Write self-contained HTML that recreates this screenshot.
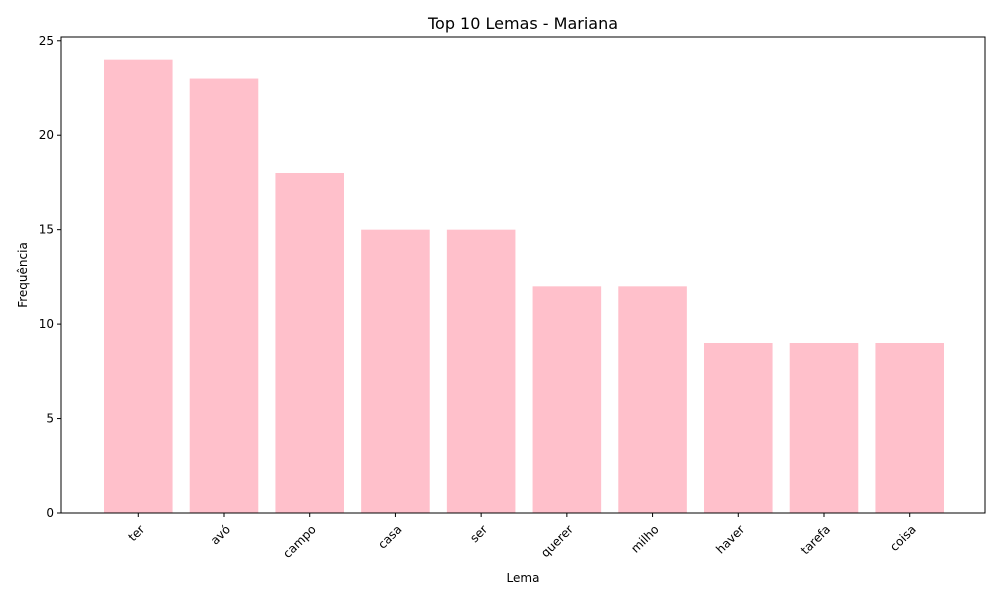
<!DOCTYPE html>
<html><head><meta charset="utf-8"><style>
body{margin:0;background:#fff;width:1000px;height:600px;overflow:hidden}
text{font-family:"DejaVu Sans","Liberation Sans",sans-serif}
</style></head><body>
<svg id="chart" width="1000" height="600" xmlns="http://www.w3.org/2000/svg">
<rect width="1000" height="600" fill="#fff"/>
<text x="523" y="29" text-anchor="middle" font-size="16">Top 10 Lemas - Mariana</text>
<g id="plot"></g>
<rect x="61" y="37" width="924" height="476" fill="none" stroke="#000" stroke-width="1"/>
<text x="523" y="582" text-anchor="middle" font-size="12">Lema</text>
<text transform="translate(27,275) rotate(-90)" text-anchor="middle" font-size="12">Frequência</text>
</svg>
<script>
const categories=["ter","avó","campo","casa","ser","querer","milho","haver","tarefa","coisa"];
const values=[24,23,18,15,15,12,12,9,9,9];
const yTicks=[0,5,10,15,20,25];
const L=61,R=985,T=37,B=513;
const ymax=Math.max(...values)*1.05;
const n=categories.length;
const xmin=-0.4-0.05*(n-1+0.8),xmax=n-1+0.4+0.05*(n-1+0.8);
const xs=v=>L+(v-xmin)/(xmax-xmin)*(R-L);
const ys=v=>B-v/ymax*(B-T);
const g=document.getElementById('plot');
const NS="http://www.w3.org/2000/svg";
function mk(t,a){const e=document.createElementNS(NS,t);for(const k in a)e.setAttribute(k,a[k]);g.appendChild(e);return e;}
values.forEach((v,i)=>{
 const r=mk('rect',{x:xs(i-0.4)+1,y:ys(v),width:xs(i+0.4)-xs(i-0.4),height:B-ys(v),fill:'#ffc0cb'});
 
 
 const x=xs(i)+1;
 const tk=mk('line',{x1:x,x2:x,y1:B,y2:B+4,stroke:'#000'});
 
 
 const t=mk('text',{'font-size':12,'text-anchor':'end',transform:`translate(${x+7},${B+17}) rotate(-45)`});
 t.textContent=categories[i];
 
 
});
yTicks.forEach(v=>{
 const y=ys(v);
 const tk=mk('line',{x1:L-4,x2:L,y1:y,y2:y,stroke:'#000'});
 
 
 const t=mk('text',{x:L-7,y:y+4,'font-size':12,'text-anchor':'end'});
 t.textContent=v;
 
 
});
</script>
</body></html>
